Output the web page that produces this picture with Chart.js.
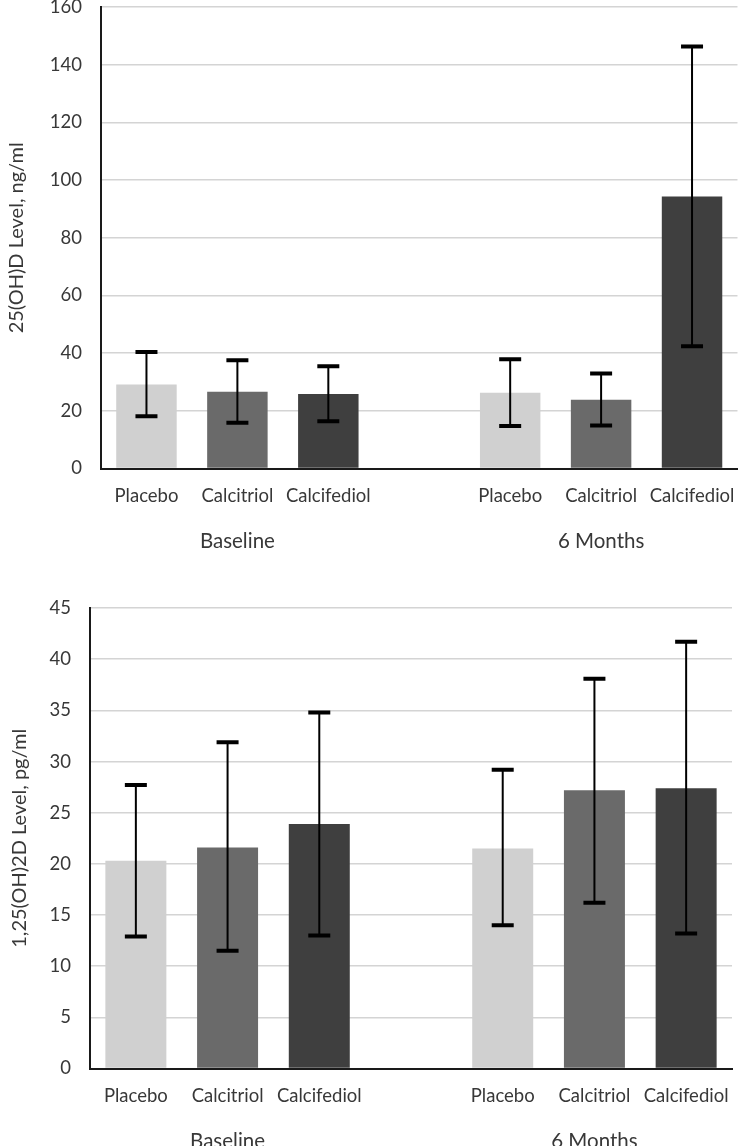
<!DOCTYPE html>
<html>
<head>
<meta charset="utf-8">
<script src="https://cdn.jsdelivr.net/npm/chart.js@4/dist/chart.umd.min.js"></script>
<style>
  html, body { margin: 0; padding: 0; background: #ffffff; width: 751px; height: 1146px; overflow: hidden; }
  .box { position: absolute; left: 0; width: 751px; }
  canvas { display: block; }
</style>
</head>
<body>
<div class="box" id="box1" style="top:-23px;height:583px;"><canvas id="c1" width="751" height="583"></canvas></div>
<div class="box" id="box2" style="top:578px;height:582px;"><canvas id="c2" width="751" height="582"></canvas></div>
<script>
// ---- data ----
const categories = ['Placebo', 'Calcitriol', 'Calcifediol', '', 'Placebo', 'Calcitriol', 'Calcifediol'];
const groupLabels = ['', 'Baseline', '', '', '', '6 Months', ''];
const barColors = ['#d0d0d0', '#6a6a6a', '#3f3f3f', '#ffffff', '#d0d0d0', '#6a6a6a', '#3f3f3f'];

// 25(OH)D, ng/ml
const ohdMean  = [29.1, 26.6, 25.8, null, 26.3, 23.8, 94.3];
const ohdUpper = [40.4, 37.5, 35.5, null, 37.9, 32.9, 146.3];
const ohdLower = [18.1, 15.9, 16.4, null, 14.7, 14.9, 42.4];
const ohdTicks = [0, 20, 40, 60, 80, 100, 120, 140, 160];

// 1,25(OH)2D, pg/ml
const dhdMean  = [20.3, 21.6, 23.9, null, 21.5, 27.2, 27.4];
const dhdUpper = [27.7, 31.9, 34.8, null, 29.2, 38.1, 41.7];
const dhdLower = [12.9, 11.5, 13.0, null, 14.0, 16.2, 13.2];
const dhdTicks = [0, 5, 10, 15, 20, 25, 30, 35, 40, 45];

// ---- styling ----
const FONT = 'Lato';
const TEXT = '#383838';

const errorBarPlugin = {
  id: 'errbars',
  afterDatasetsDraw(chart, args, opts) {
    const ctx = chart.ctx;
    const meta = chart.getDatasetMeta(0);
    const y = chart.scales.y;
    ctx.save();
    ctx.strokeStyle = '#000000';
    for (let i = 0; i < opts.upper.length; i++) {
      if (opts.upper[i] == null) continue;
      const x = meta.data[i].x;
      const yt = y.getPixelForValue(opts.upper[i]);
      const yb = y.getPixelForValue(opts.lower[i]);
      ctx.lineWidth = 2;
      ctx.beginPath(); ctx.moveTo(x, yt); ctx.lineTo(x, yb); ctx.stroke();
      ctx.lineWidth = 4;
      ctx.beginPath();
      ctx.moveTo(x - 11, yt); ctx.lineTo(x + 11, yt);
      ctx.moveTo(x - 11, yb); ctx.lineTo(x + 11, yb);
      ctx.stroke();
    }
    ctx.restore();
  }
};

function makeChart(id, mean, upper, lower, ticks, title, axisWidth, rightPad, titlePad) {
  return new Chart(document.getElementById(id), {
    type: 'bar',
    data: {
      labels: categories,
      datasets: [{
        data: mean,
        backgroundColor: barColors,
        borderWidth: 0,
        barPercentage: 0.665,
        categoryPercentage: 1.0
      }]
    },
    options: {
      responsive: false,
      animation: false,
      devicePixelRatio: 1,
      layout: { padding: { left: 0, right: rightPad, top: 0, bottom: 0 } },
      plugins: {
        legend: { display: false },
        tooltip: { enabled: false },
        errbars: { upper: upper, lower: lower }
      },
      scales: {
        x: {
          type: 'category',
          position: 'bottom',
          grid: { display: false, drawTicks: false },
          border: { display: true, color: '#1a1a1a', width: 2 },
          ticks: { color: TEXT, font: { family: FONT, size: 18.5 }, padding: 16, autoSkip: false, maxRotation: 0 },
          afterFit: s => { s.height = 40; }
        },
        x2: {
          type: 'category',
          position: 'bottom',
          labels: groupLabels,
          grid: { display: false, drawTicks: false },
          border: { display: false },
          ticks: { color: TEXT, font: { family: FONT, size: 20.5 }, padding: 21, autoSkip: false, maxRotation: 0 },
          afterFit: s => { s.height = 51.5; }
        },
        y: {
          min: ticks[0],
          max: ticks[ticks.length - 1],
          afterBuildTicks: s => { s.ticks = ticks.map(v => ({ value: v })); },
          grid: { color: '#d4d4d4', lineWidth: 1.6, drawTicks: false },
          border: { display: true, color: '#1a1a1a', width: 2 },
          ticks: { color: TEXT, font: { family: FONT, size: 18.5 }, padding: 19 },
          title: { display: true, text: title, color: TEXT, font: { family: FONT, size: 20 }, padding: { top: titlePad, bottom: 0 } },
          afterFit: s => { s.width = axisWidth; }
        }
      }
    },
    plugins: [errorBarPlugin]
  });
}

makeChart('c1', ohdMean, ohdUpper, ohdLower, ohdTicks, '25(OH)D Level, ng/ml', 101, 8, 5);
makeChart('c2', dhdMean, dhdUpper, dhdLower, dhdTicks, '1,25(OH)2D Level, pg/ml', 90, 19, 8);
</script>
</body>
</html>
